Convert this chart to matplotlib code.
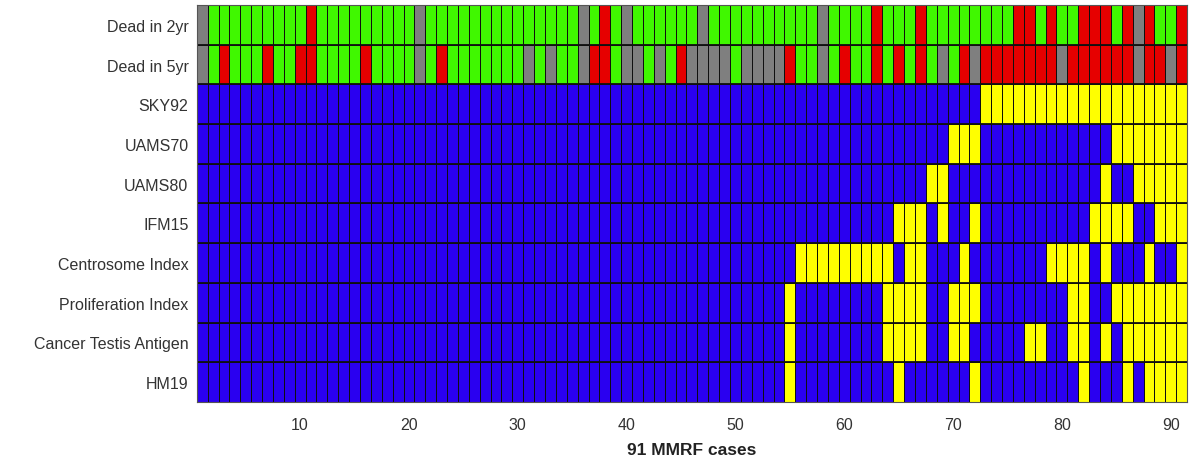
import numpy as np
import matplotlib
matplotlib.use('Agg')
import matplotlib.pyplot as plt
from matplotlib.colors import ListedColormap

plt.rcParams['font.family'] = ['Liberation Sans', 'DejaVu Sans']

n_cases = 91
row_labels = ['Dead in 2yr', 'Dead in 5yr', 'SKY92', 'UAMS70', 'UAMS80', 'IFM15',
              'Centrosome Index', 'Proliferation Index', 'Cancer Testis Antigen', 'HM19']

# survival rows: case numbers (1-based) that are dead / unknown, the rest alive
dead_2yr = [11, 38, 63, 67, 76, 77, 79, 82, 83, 84, 86, 88, 91]
na_2yr = [1, 21, 36, 40, 47, 58, 87]
dead_5yr = [3, 7, 10, 11, 16, 23, 37, 38, 45, 55, 60, 63, 65, 67, 71,
            73, 74, 75, 76, 77, 78, 79, 81, 82, 83, 84, 85, 86, 88, 89, 91]
na_5yr = [1, 21, 31, 33, 36, 40, 41, 43, 46, 47, 48, 49, 51, 52, 53, 54,
          58, 69, 72, 80, 87, 90]

# signature rows: case numbers called high risk
sky92 = list(range(73, 92))
uams70 = [70, 71, 72, 85, 86, 87, 88, 89, 90, 91]
uams80 = [68, 69, 84, 87, 88, 89, 90, 91]
ifm15 = [65, 66, 67, 69, 72, 83, 84, 85, 86, 89, 90, 91]
centrosome = [56, 57, 58, 59, 60, 61, 62, 63, 64, 66, 67, 71, 79, 80, 81, 82, 84, 88, 91]
proliferation = [55, 64, 65, 66, 67, 70, 71, 72, 81, 82, 85, 86, 87, 88, 89, 90, 91]
cta = [55, 64, 65, 66, 67, 70, 71, 77, 78, 81, 82, 84, 86, 87, 88, 89, 90, 91]
hm19 = [55, 65, 72, 82, 86, 88, 89, 90, 91]

# codes: 0 low (blue), 1 high (yellow), 2 alive (green), 3 dead (red), 4 n/a (gray)
M = np.zeros((len(row_labels), n_cases))
for r, (dead, na) in enumerate([(dead_2yr, na_2yr), (dead_5yr, na_5yr)]):
    M[r, :] = 2
    M[r, np.array(dead) - 1] = 3
    M[r, np.array(na) - 1] = 4
for r, hits in enumerate([sky92, uams70, uams80, ifm15, centrosome,
                          proliferation, cta, hm19], start=2):
    M[r, np.array(hits) - 1] = 1

cmap = ListedColormap(['#2a00f0', '#ffff00', '#40f800', '#e60000', '#7f7f7f'])

fig = plt.figure(figsize=(11.96, 4.6), dpi=100)
ax = fig.add_axes([0.1645, 0.124, 0.828, 0.863])

xe = np.arange(n_cases + 1) + 0.5
ye = np.arange(len(row_labels) + 1) + 0.5
ax.pcolormesh(xe, ye, M, cmap=cmap, vmin=-0.5, vmax=4.5,
              edgecolors='#101010', linewidth=0.6)
for yb in ye[1:-1]:
    ax.axhline(yb, color='#101010', lw=1.3)

ax.set_xlim(0.5, n_cases + 0.5)
ax.set_ylim(len(row_labels) + 0.5, 0.5)
ax.set_yticks(np.arange(1, len(row_labels) + 1))
ax.set_yticklabels(row_labels)
ax.set_xticks(np.arange(10, 91, 10))
ax.tick_params(axis='both', length=0, labelsize=11.5, labelcolor='#333333')
ax.tick_params(axis='x', pad=11)
ax.tick_params(axis='y', pad=6)
ax.set_xlabel('91 MMRF cases', fontsize=12.5, fontweight='bold', color='#222222', labelpad=7)
for s in ax.spines.values():
    s.set_color('#555555')
    s.set_linewidth(0.8)

fig.savefig('out.png', dpi=100)
